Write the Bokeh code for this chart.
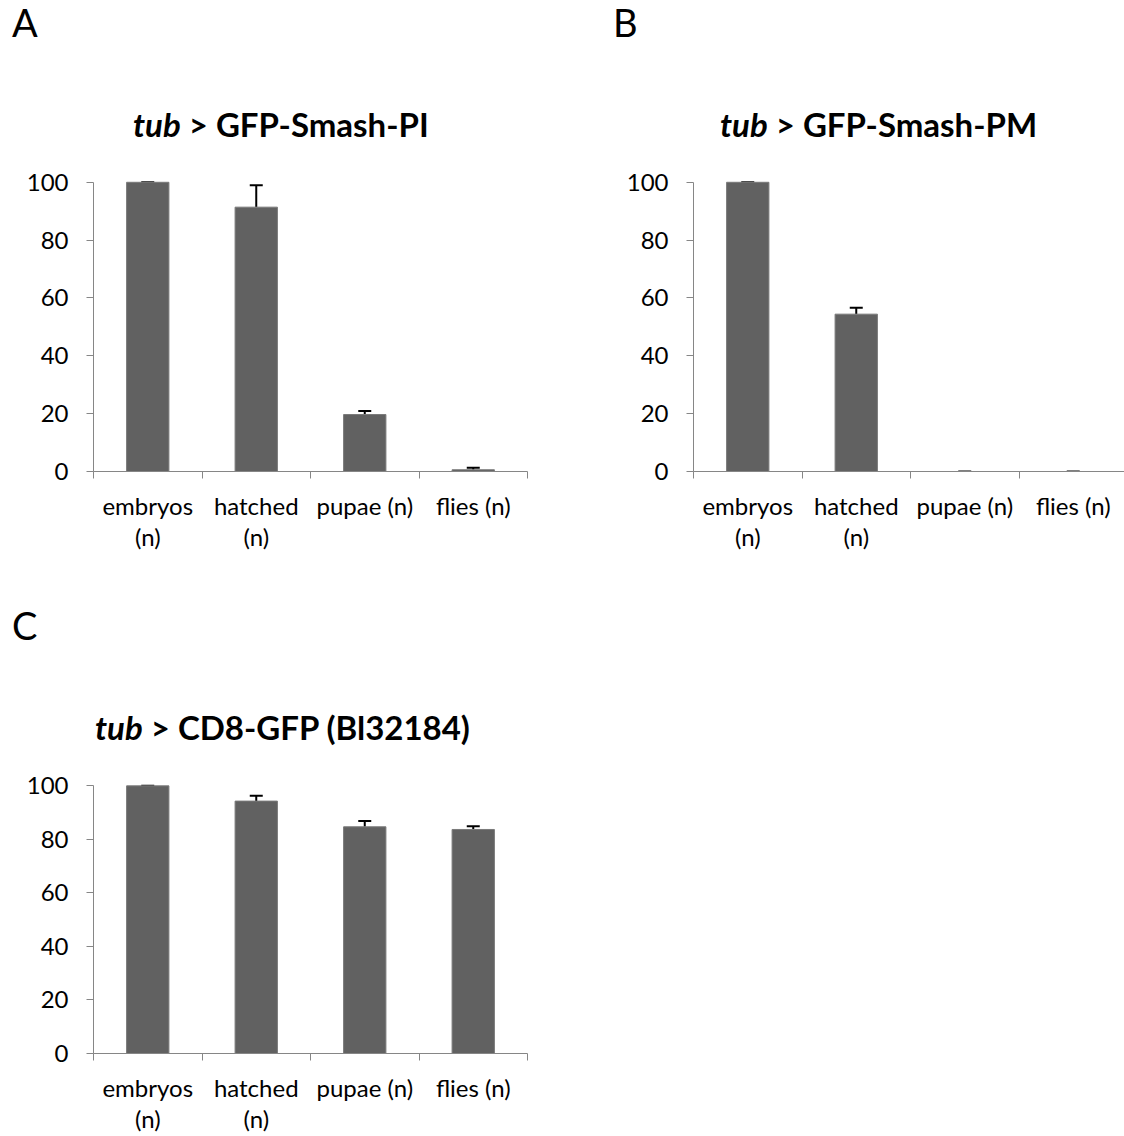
from bokeh.plotting import figure
from bokeh.models import (Range1d, LinearAxis, FixedTicker, SingleIntervalTicker,
                          Whisker, TeeHead, ColumnDataSource, Div)
from bokeh.layouts import column, row
from bokeh.embed import file_html
from bokeh.resources import INLINE
import html as _html

# ---------------- data ----------------
categories = ["embryos\n(n)", "hatched\n(n)", "pupae (n)", "flies (n)"]

pi_values = [100, 91.4, 19.7, 0.6]
pi_errors = [0.0, 7.6, 1.2, 0.7]

pm_values = [100, 54.4, 0.0, 0.0]
pm_errors = [0.0, 2.2, 0.0, 0.0]

cd8_values = [100, 94.3, 84.7, 83.7]
cd8_errors = [0.0, 2.0, 2.2, 1.2]

titles = [("tub", "> GFP-Smash-PI"), ("tub", "> GFP-Smash-PM"),
          ("tub", "> CD8-GFP (Bl32184)")]
letters = ["A", "B", "C"]

y_ticks_interval = 20
y_max = 100

FONT = "Lato"
BAR = "#616161"
AXIS = "#868686"


def header(letter, title, width, height, letter_xy, title_xy):
    lx, ly = letter_xy
    tx, ty = title_xy
    text = (
        f'<div style="position:relative;width:{width}px;height:{height}px;'
        f'font-family:{FONT};color:black;">'
        f'<span style="position:absolute;left:{lx}px;top:{ly}px;font-size:38px;'
        f'line-height:1;white-space:nowrap;">{_html.escape(letter)}</span>'
        f'<span style="position:absolute;left:{tx}px;top:{ty}px;font-size:33px;'
        f'font-weight:bold;line-height:1;white-space:nowrap;">'
        f'<i>{_html.escape(title[0])}</i> {_html.escape(title[1])}</span></div>'
    )
    return Div(text=text, width=width, height=height, margin=0)


def make_panel(values, errors, width, height, bl, br, bt, bb, x_end):
    p = figure(width=width, height=height, x_range=Range1d(0, x_end),
               y_range=Range1d(0, 102), output_backend="svg",
               toolbar_location=None, x_axis_type=None, y_axis_type=None,
               min_border_left=bl, min_border_right=br,
               min_border_top=bt, min_border_bottom=bb)
    p.outline_line_color = None
    p.background_fill_color = "white"
    p.border_fill_color = "white"

    xs = [i + 0.5 for i in range(len(categories))]
    src = ColumnDataSource(dict(
        x=xs, top=values,
        upper=[v + e for v, e in zip(values, errors)],
        lower=values))
    p.vbar(x="x", top="top", width=0.39, source=src,
           fill_color=BAR, line_color="#7a7a7a", line_width=1)
    p.add_layout(Whisker(source=src, base="x", upper="upper", lower="lower",
                         dimension="height", line_color="black", line_width=2,
                         upper_head=TeeHead(size=13, line_width=2, line_color="black"),
                         lower_head=None))

    ya = LinearAxis(ticker=SingleIntervalTicker(interval=y_ticks_interval),
                    bounds=(0, y_max))
    ya.axis_line_color = AXIS
    ya.major_tick_line_color = AXIS
    ya.major_tick_out = 7
    ya.major_tick_in = 0
    ya.minor_tick_line_color = None
    ya.major_label_text_font = FONT
    ya.major_label_text_font_size = "24px"
    ya.major_label_text_color = "black"
    ya.major_label_standoff = 18
    p.add_layout(ya, "left")

    xa = LinearAxis(ticker=FixedTicker(ticks=xs,
                                       minor_ticks=list(range(len(categories) + 1))),
                    bounds=(0, len(categories)))
    xa.major_label_overrides = {x: c for x, c in zip(xs, categories)}
    xa.axis_line_color = AXIS
    xa.major_tick_line_color = None
    xa.minor_tick_line_color = AXIS
    xa.minor_tick_out = 7
    xa.minor_tick_in = 0
    xa.major_label_text_font = FONT
    xa.major_label_text_font_size = "24px"
    xa.major_label_text_color = "black"
    xa.major_label_text_line_height = 1.1
    xa.major_label_standoff = 12
    p.add_layout(xa, "below")
    return p


hA = header(letters[0], titles[0], 600, 150, (12, 3), (133, 108))
hB = header(letters[1], titles[1], 524, 150, (13, 3), (120, 108))
hC = header(letters[2], titles[2], 600, 160, (12, 6), (95, 111))

pA = make_panel(pi_values, pi_errors, 600, 450, 93, 73, 26, 129, 4.0)
pB = make_panel(pm_values, pm_errors, 524, 450, 93, 0, 26, 129, 431 / 108.5)
pC = make_panel(cd8_values, cd8_errors, 600, 376, 93, 73, 20, 83, 4.0)

layout = column(row(column(hA, pA), column(hB, pB)), column(hC, pC))

open("out.html", "w").write(file_html(layout, INLINE))
